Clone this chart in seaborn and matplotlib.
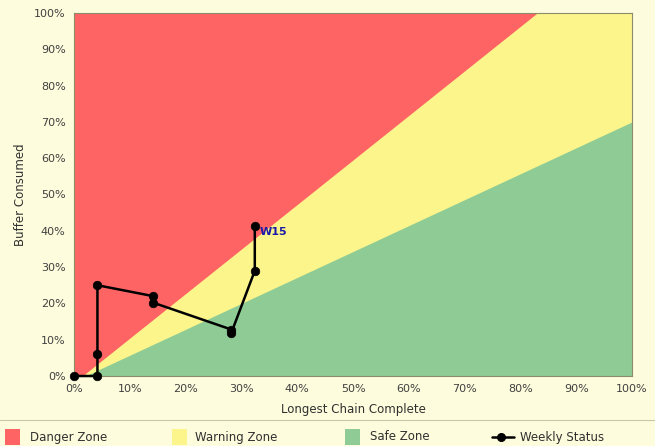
import matplotlib
matplotlib.use("Agg")
import matplotlib.pyplot as plt
import seaborn as sns
import pandas as pd
from matplotlib.patches import Rectangle
from matplotlib.lines import Line2D

# ---- data ----
chain_complete = [0.0, 4.2, 4.2, 4.2, 14.2, 14.2, 28.2, 28.2, 32.4, 32.4]
buffer_consumed = [0.0, 0.0, 6.0, 25.0, 22.0, 20.2, 12.8, 11.9, 29.0, 41.3]
last_label = "W15"

danger_x = [1.5, 83.0, 100.0]
danger_y = [0.0, 100.0, 100.0]
safe_x = [2.0, 100.0]
safe_y = [0.0, 70.0]

ticks = list(range(0, 101, 10))
tick_labels = [f"{t}%" for t in ticks]
legend_labels = ["Danger Zone", "Warning Zone", "Safe Zone", "Weekly Status"]

# ---- style ----
bg = "#FDFCDC"
red = "#FF6464"
yellow = "#FBF58C"
green = "#8FCB95"
txt = "#303030"

sns.set_style("white")
plt.rcParams["font.family"] = ["DejaVu Sans"]

W, H = 655, 446
fig = plt.figure(figsize=(W/100, H/100), dpi=100, facecolor=bg)
ax = fig.add_axes([74/W, 70/H, (632-74)/W, (376-13)/H])
ax.set_facecolor(red)

ax.fill_between(danger_x, danger_y, 0, color=yellow, lw=0, zorder=1)
ax.fill_between(safe_x, safe_y, 0, color=green, lw=0, zorder=2)

df = pd.DataFrame({"x": chain_complete, "y": buffer_consumed})
sns.lineplot(data=df, x="x", y="y", estimator=None, sort=False,
             ax=ax, color="black", lw=1.8, zorder=4, legend=False, clip_on=False)
sns.scatterplot(data=df, x="x", y="y", ax=ax, color="black", s=38,
                edgecolor="black", zorder=5, legend=False, clip_on=False)

ax.text(chain_complete[-1] + 0.9, buffer_consumed[-1] - 1.5, last_label,
        color="#1C1CA8", fontsize=8, fontweight="bold", va="center", zorder=6)

ax.set_xlim(0, 100)
ax.set_ylim(0, 100)
ax.set_xticks(ticks)
ax.set_xticklabels(tick_labels)
ax.set_yticks(ticks)
ax.set_yticklabels(tick_labels)
ax.tick_params(axis="both", labelsize=8, colors="#404040", length=4,
               width=0.8, direction="out", pad=2)
ax.tick_params(axis="both", color="#999999")
ax.set_xlabel("Longest Chain Complete", fontsize=8.5, color=txt, labelpad=6)
ax.set_ylabel("Buffer Consumed", fontsize=8.5, color=txt, labelpad=5)
for s in ax.spines.values():
    s.set_visible(True)
    s.set_color("#8C8C6A")
    s.set_linewidth(0.8)

# separator line above legend
sep_y = 1 - 420/H
fig.add_artist(Line2D([0, 1], [sep_y, sep_y], color="#C8C8A8", lw=0.8))

# legend row (manual placement)
row_y = 1 - 437/H
patch_colors = [red, yellow, green]
patch_x = [5, 172, 345]
text_x = [30, 195, 370, 520]
for px, c in zip(patch_x, patch_colors):
    fig.add_artist(Rectangle((px/W, 1 - 445/H), 15/W, 16/H, facecolor=c,
                             edgecolor="none", transform=fig.transFigure))
fig.add_artist(Line2D([492/W, 514/W], [row_y, row_y], color="black", lw=1.8))
fig.add_artist(Line2D([501/W], [row_y], color="black", marker="o",
                      markersize=5.5, lw=0))
for tx, lab in zip(text_x, legend_labels):
    fig.text(tx/W, row_y, lab, fontsize=8.5, color=txt, va="center", ha="left")

fig.savefig("out.png", dpi=100, facecolor=bg)
